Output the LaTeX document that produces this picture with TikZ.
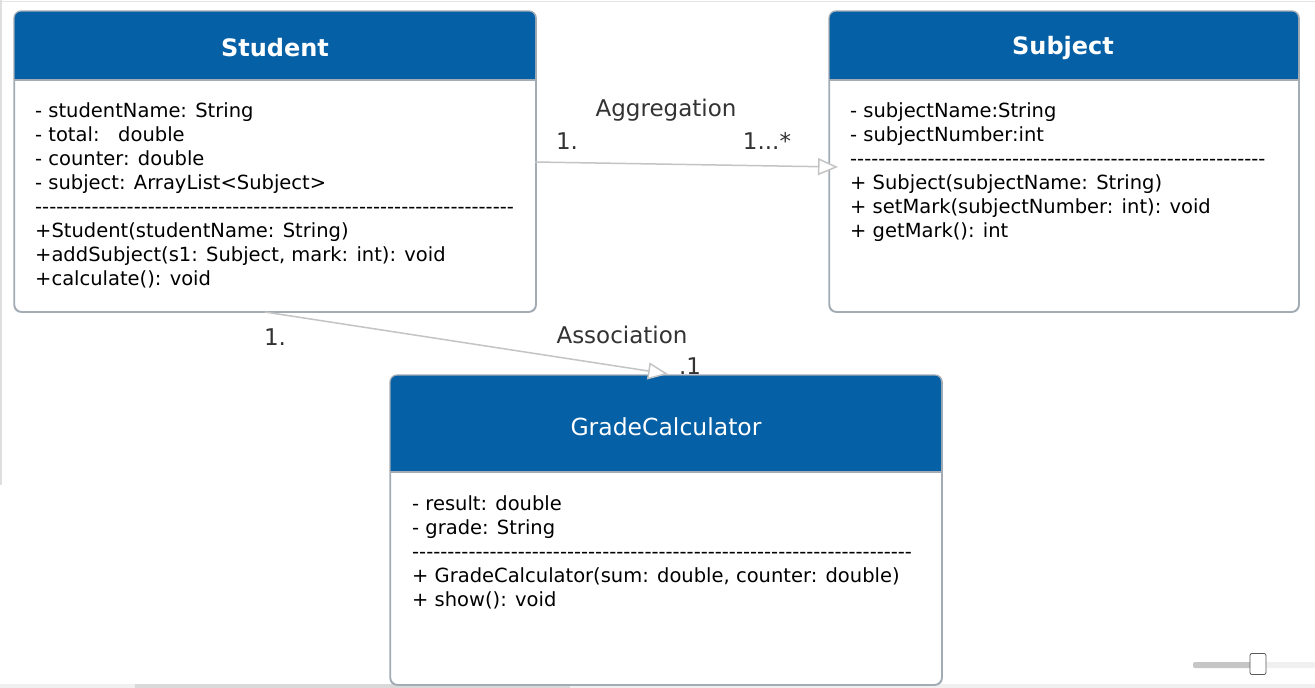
\documentclass[tikz,border=0pt]{standalone}
\usepackage{fontspec}
\setmainfont{DejaVu Sans}
\usetikzlibrary{arrows.meta}
\definecolor{headblue}{HTML}{0560A6}
\definecolor{boxline}{HTML}{A3ACB5}
\definecolor{conn}{HTML}{C4C4C4}
\definecolor{labtxt}{HTML}{333333}
\newcommand\hyphs[1]{\foreach \i in {1,...,#1}{-}}
\tikzset{
  x=1pt, y=-1pt,
  classbox/.style={draw=boxline, line width=1.2pt, rounded corners=7pt, fill=white, anchor=north west, inner sep=0pt},
  headfill/.style={fill=headblue, rounded corners=7pt},
  title/.style={text=white, font=\fontsize{24}{28}\selectfont\bfseries, inner sep=0pt},
  titlereg/.style={text=white, font=\fontsize{23.5}{28}\selectfont, inner sep=0pt},
  members/.style={anchor=north west, align=left, inner sep=0pt, font=\fontsize{19.5}{24}\selectfont},
  lab/.style={text=labtxt, font=\fontsize{23}{28}\selectfont, inner sep=0pt},
  connector/.style={draw=conn, line width=1.5pt, -{Triangle[length=20pt,width=17pt,fill=white]}},
}
\begin{document}
\begin{tikzpicture}
\useasboundingbox (0,0) rectangle (1315,688);
\fill[white] (0,0) rectangle (1315,688);
% window artifacts
\draw[gray!20, line width=1pt] (0,1.5) -- (1315,1.5);
\draw[gray!25, line width=1.5pt] (1,0) -- (1,485);
\fill[gray!12] (0,684) rectangle (1315,688);
\fill[gray!30] (135,684) rectangle (570,688);
\fill[gray!12, rounded corners=2pt] (1258,662) rectangle (1315,668);
\fill[gray!45, rounded corners=2pt] (1193,662) rectangle (1258,668);
\node[draw=gray!70!black, fill=white, rounded corners=2pt, minimum width=16pt, minimum height=21pt, inner sep=0pt, line width=0.8pt] (slider) at (1258,664) {};

% Student
\node[classbox, minimum width=521pt, minimum height=300pt] (student) at (14,11) {};
\fill[headfill] (14,11) rectangle (535,80);
\fill[headblue] (14,60) rectangle (535,80);
\draw[boxline, line width=1.2pt] (14,80) -- (535,80);
\draw[boxline, line width=1.2pt, rounded corners=7pt] (student.north west) rectangle (student.south east);
\node[title] (studentT) at (275,47.5) {Student};
\node[members] (studentM) at (35,100.7) {\strut- studentName: String\\
\strut- total:\ \ \ double\\
\strut- counter: double\\
\strut- subject: ArrayList<Subject>\\
\strut\hyphs{68}\\
\strut+Student(studentName: String)\\
\strut+addSubject(s1: Subject, mark: int): void\\
\strut+calculate(): void};

% Subject
\node[classbox, minimum width=469pt, minimum height=300pt] (subject) at (829,11) {};
\fill[headfill] (829,11) rectangle (1298,80);
\fill[headblue] (829,60) rectangle (1298,80);
\draw[boxline, line width=1.2pt] (829,80) -- (1298,80);
\draw[boxline, line width=1.2pt, rounded corners=7pt] (subject.north west) rectangle (subject.south east);
\node[title] (subjectT) at (1063,47.5) {Subject};
\node[members] (subjectM) at (850,100.7) {\strut- subjectName:String\\
\strut- subjectNumber:int\\
\strut\hyphs{59}\\
\strut+ Subject(subjectName: String)\\
\strut+ setMark(subjectNumber: int): void\\
\strut+ getMark(): int};

% GradeCalculator
\node[classbox, minimum width=551pt, minimum height=309pt] (grade) at (390,375) {};
\fill[headfill] (390,375) rectangle (941,472);
\fill[headblue] (390,450) rectangle (941,472);
\draw[boxline, line width=1.2pt] (390,472) -- (941,472);
\draw[boxline, line width=1.2pt, rounded corners=7pt] (grade.north west) rectangle (grade.south east);
\node[titlereg] (gradeT) at (666,427) {GradeCalculator};
\node[members] (gradeM) at (412,493.4) {\strut- result: double\\
\strut- grade: String\\
\strut\hyphs{71}\\
\strut+ GradeCalculator(sum: double, counter: double)\\
\strut+ show(): void};

% connectors
\coordinate (aggS) at (535,162);
\coordinate (aggE) at (838,167);
\draw[connector] (aggS) -- (aggE);
\node[lab] (aggL) at (666,110) {Aggregation};
\node[lab] (aggM1) at (567,141) {1.};
\node[lab] (aggM2) at (767,141) {1...*};

\coordinate (assS) at (265,312);
\coordinate (assE) at (668,374);
\draw[connector] (assS) -- (assE);
\node[lab] (assL) at (622,335) {Association};
\node[lab] (assM1) at (275,337) {1.};
\node[lab] (assM2) at (690,366) {.1};
\end{tikzpicture}
\end{document}
